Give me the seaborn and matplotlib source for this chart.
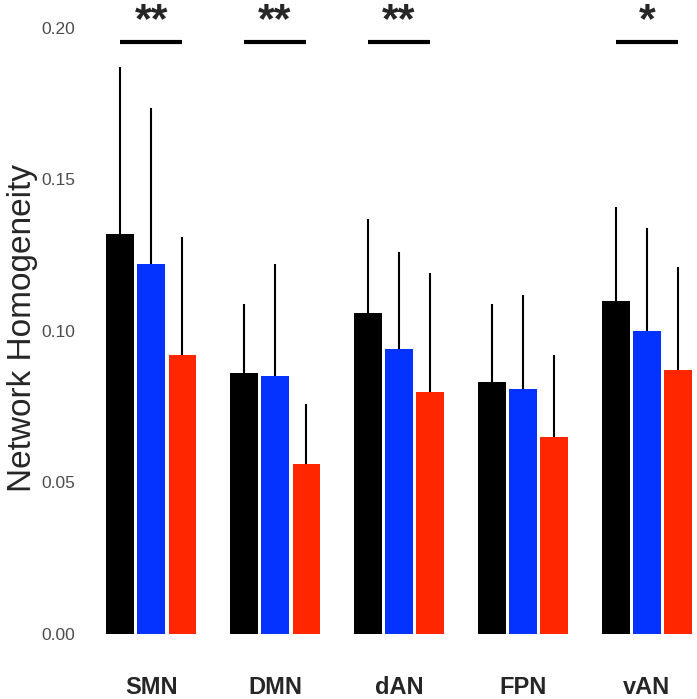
import matplotlib
matplotlib.use("Agg")
import matplotlib.pyplot as plt
import seaborn as sns
import pandas as pd
import numpy as np

networks = ["SMN", "DMN", "dAN", "FPN", "vAN"]
groups = ["Group 1", "Group 2", "Group 3"]
mean_g1 = [0.132, 0.086, 0.106, 0.083, 0.110]
mean_g2 = [0.122, 0.085, 0.094, 0.081, 0.100]
mean_g3 = [0.092, 0.056, 0.080, 0.065, 0.087]
err_g1 = [0.055, 0.023, 0.031, 0.026, 0.031]
err_g2 = [0.0515, 0.037, 0.032, 0.031, 0.034]
err_g3 = [0.039, 0.020, 0.039, 0.027, 0.034]
sig_labels = ["**", "**", "**", "", "*"]
yticks = [0.00, 0.05, 0.10, 0.15, 0.20]
colors = ["#000000", "#0433FF", "#FF2600"]

means = [mean_g1, mean_g2, mean_g3]
errs = [err_g1, err_g2, err_g3]
df = pd.DataFrame({
    "network": [n for g in groups for n in networks],
    "group": [g for g in groups for n in networks],
    "value": [v for m in means for v in m],
})

sns.set_style("white")
plt.rcParams["font.family"] = ["Liberation Sans", "DejaVu Sans"]

fig = plt.figure(figsize=(6.97, 6.99), dpi=100)
ax = fig.add_axes([85 / 697, 65 / 699, 612 / 697, 634 / 699])

sns.barplot(data=df, x="network", y="value", hue="group", order=networks,
            hue_order=groups, palette=colors, saturation=1, width=0.756, gap=0.115,
            errorbar=None, linewidth=0, legend=False, ax=ax)

for cont, err in zip(ax.containers, errs):
    for bar, e in zip(cont, err):
        xc = bar.get_x() + bar.get_width() / 2
        top = bar.get_height()
        ax.vlines(xc, top, top + e, color="black", lw=1.5, zorder=3)

slot = 0.756 / 3
for i, lab in enumerate(sig_labels):
    if not lab:
        continue
    ax.plot([i - slot, i + slot], [0.1955, 0.1955], color="black", lw=3,
            solid_capstyle="butt", clip_on=False)
    ax.text(i, 0.1987, lab, ha="center", va="baseline", fontsize=31,
            fontweight="bold", clip_on=False)

ax.set_xlim(-0.534, 4.404)
ax.set_ylim(0, 0.2092)
ax.set_yticks(yticks)
ax.set_yticklabels([f"{t:.2f}" for t in yticks])
ax.tick_params(axis="y", length=0, pad=7, labelsize=12.5, labelcolor="#4D4D4D")
ax.tick_params(axis="x", length=0, pad=30, labelsize=17)
for lab in ax.get_xticklabels():
    lab.set_fontweight("bold")
ax.set_xlabel("")
ax.set_ylabel("Network Homogeneity", fontsize=24)
ax.yaxis.set_label_coords(-0.077, 0.483)
for s in ax.spines.values():
    s.set_visible(False)

fig.savefig("out.png", dpi=100)
